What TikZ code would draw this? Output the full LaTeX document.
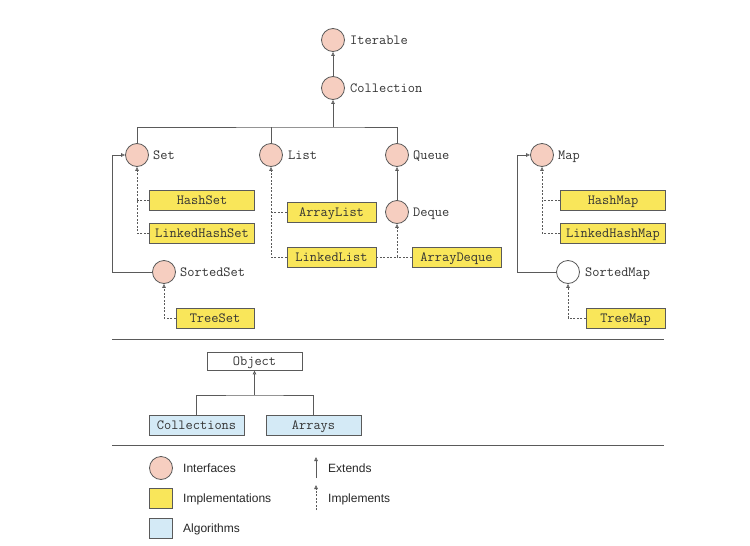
\documentclass[tikz,border=0pt]{standalone}
\usepackage{fontspec}
\setmainfont{Liberation Sans}
\usetikzlibrary{arrows.meta,positioning}
\definecolor{ifill}{RGB}{246,206,192}
\definecolor{yfill}{RGB}{249,230,90}
\definecolor{bfill}{RGB}{212,234,246}
\definecolor{lgray}{RGB}{90,90,90}
\newcommand\codesize{\ttfamily\fontsize{14}{16}\selectfont}
\begin{document}
\begin{tikzpicture}[x=1pt,y=-1pt,
  iface/.style={circle,draw=lgray,line width=0.8pt,fill=ifill,minimum size=23pt,inner sep=0pt},
  ifacew/.style={iface,fill=white},
  impl/.style={rectangle,draw=lgray,line width=0.8pt,fill=yfill,minimum height=20pt,inner sep=0pt,text height=8.4pt,text depth=0pt,font=\codesize,text=black!80},
  algo/.style={impl,fill=bfill},
  plain/.style={impl,fill=white,minimum height=18pt},
  lbl/.style={anchor=west,inner sep=0pt,text height=8.4pt,text depth=0pt,font=\codesize,text=black!80},
  leg/.style={anchor=west,inner sep=0pt,text height=8.6pt,text depth=0pt,font=\fontsize{12}{14}\selectfont,text=black!85},
  conn/.style={draw=lgray,line width=0.8pt},
  ext/.style={conn,-{Triangle[open,length=4pt,width=3.5pt]}},
  dconn/.style={conn,dash pattern=on 2pt off 1.5pt},
  imp/.style={dconn,-{Triangle[open,length=4pt,width=3.5pt]}},
]
\useasboundingbox (0,0) rectangle (750,546);

% interfaces
\node[iface] (iterable) at (333,40) {};
\node[lbl] (iterablel) at (350,40) {Iterable};
\node[iface] (collection) at (333,88) {};
\node[lbl] (collectionl) at (350,88) {Collection};
\node[iface] (set) at (137,155) {};
\node[lbl] (setl) at (153,155) {Set};
\node[iface] (list) at (271,155) {};
\node[lbl] (listl) at (288,155) {List};
\node[iface] (queue) at (397,155) {};
\node[lbl] (queuel) at (413,155) {Queue};
\node[iface] (deque) at (397,212) {};
\node[lbl] (dequel) at (413,212) {Deque};
\node[iface] (sortedset) at (164,272) {};
\node[lbl] (sortedsetl) at (180,272) {SortedSet};
\node[iface] (map) at (542,155) {};
\node[lbl] (mapl) at (558,155) {Map};
\node[ifacew] (sortedmap) at (568,272) {};
\node[lbl] (sortedmapl) at (585,272) {SortedMap};

% implementations
\node[impl,minimum width=105pt] (hashset) at (202,200) {HashSet};
\node[impl,minimum width=105pt] (lhashset) at (202,233) {LinkedHashSet};
\node[impl,minimum width=89pt] (arraylist) at (331.5,212) {ArrayList};
\node[impl,minimum width=89pt] (linkedlist) at (331.5,257) {LinkedList};
\node[impl,minimum width=89pt] (arraydeque) at (456.5,257) {ArrayDeque};
\node[impl,minimum width=78pt] (treeset) at (215,318) {TreeSet};
\node[impl,minimum width=105pt] (hashmap) at (613,200) {HashMap};
\node[impl,minimum width=105pt] (lhashmap) at (613,233) {LinkedHashMap};
\node[impl,minimum width=79pt] (treemap) at (625.5,318) {TreeMap};

% extends connectors
\draw[ext] (collection) -- (iterable);
\coordinate (bar) at (333,127);
\draw[conn] (set.north) |- (bar) -| (queue.north);
\draw[conn] (list.north) -- (list.north |- bar);
\draw[ext] (bar) -- (collection);
\draw[ext] (deque) -- (queue);
\coordinate (setside) at (112,155);
\draw[ext] (sortedset.west) -| (setside) -- (set.west);
\coordinate (mapside) at (517,155);
\draw[ext] (sortedmap.west) -| (mapside) -- (map.west);

% implements connectors
\draw[imp] (lhashset.west) -| (set.south);
\draw[dconn] (hashset.west) -- (hashset.west -| set);
\draw[imp] (linkedlist.west) -| (list.south);
\draw[dconn] (arraylist.west) -- (arraylist.west -| list);
\draw[imp] (linkedlist.east) -| (deque.south);
\draw[dconn] (arraydeque.west) -- (arraydeque.west -| deque);
\draw[imp] (treeset.west) -| (sortedset.south);
\draw[imp] (lhashmap.west) -| (map.south);
\draw[dconn] (hashmap.west) -- (hashmap.west -| map);
\draw[imp] (treemap.west) -| (sortedmap.south);

% separators
\coordinate (s1a) at (112,339); \coordinate (s1b) at (664,339);
\coordinate (s2a) at (112,445); \coordinate (s2b) at (664,445);
\draw[conn] (s1a) -- (s1b);
\draw[conn] (s2a) -- (s2b);

% algorithms
\node[plain,minimum width=95pt] (object) at (254.5,361) {Object};
\node[algo,minimum width=95pt] (collections) at (196.5,425) {Collections};
\node[algo,minimum width=95pt] (arrays) at (313.5,425) {Arrays};
\coordinate (obar) at (254.5,395);
\draw[conn] (collections.north) |- (obar) -| (arrays.north);
\draw[ext] (obar) -- (object.south);

% legend
\node[iface] (legi) at (161,468) {};
\node[leg] (legil) at (183,468) {Interfaces};
\node[impl,minimum width=23pt,minimum height=20pt] (legy) at (160.5,498) {};
\node[leg] (legyl) at (183,498) {Implementations};
\node[algo,minimum width=23pt,minimum height=20pt] (legb) at (160.5,528) {};
\node[leg] (legbl) at (183,528) {Algorithms};
\coordinate (e1) at (316,478); \coordinate (e2) at (316,457);
\draw[ext] (e1) -- (e2);
\node[leg] (extl) at (328,468) {Extends};
\coordinate (m1) at (316,510); \coordinate (m2) at (316,485);
\draw[imp] (m1) -- (m2);
\node[leg] (impll) at (328,498) {Implements};
\end{tikzpicture}
\end{document}
